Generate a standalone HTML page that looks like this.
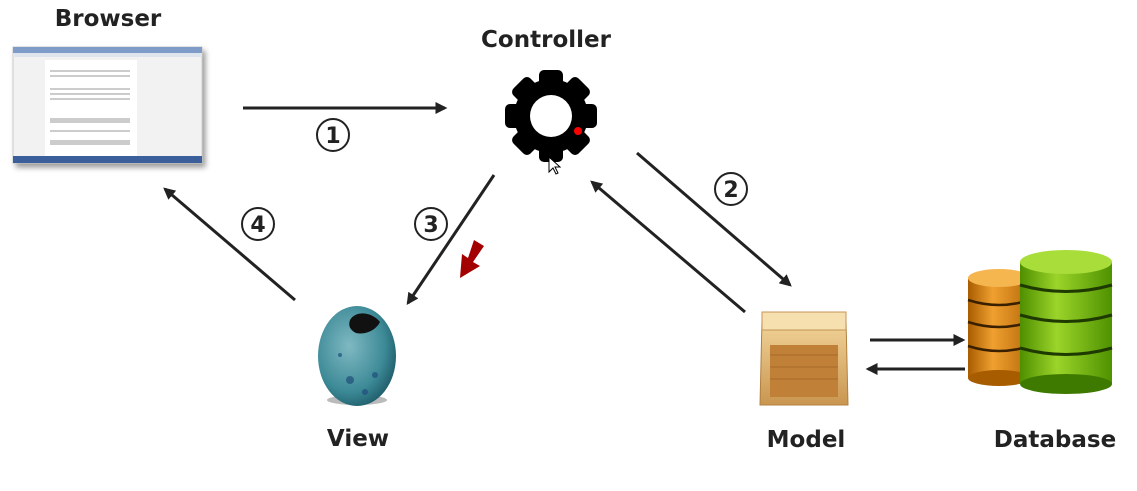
<!DOCTYPE html>
<html><head><meta charset="utf-8"><style>
html,body{margin:0;padding:0;background:#fff;}
svg{display:block;}
text{font-family:"DejaVu Sans","Liberation Sans",sans-serif;font-weight:bold;fill:#222;}
</style></head><body>
<svg width="1137" height="491" viewBox="0 0 1137 491" xmlns="http://www.w3.org/2000/svg">
<defs>
<marker id="ah" viewBox="0 0 10 10" refX="8" refY="5" markerWidth="4" markerHeight="4" orient="auto"><path d="M0,0 L10,5 L0,10 z" fill="#222"/></marker>
<filter id="sh" x="-10%" y="-10%" width="130%" height="130%"><feGaussianBlur in="SourceAlpha" stdDeviation="3"/><feOffset dx="3" dy="4"/><feComponentTransfer><feFuncA type="linear" slope="0.4"/></feComponentTransfer><feMerge><feMergeNode/><feMergeNode in="SourceGraphic"/></feMerge></filter>
<radialGradient id="egg" cx="40%" cy="40%" r="65%"><stop offset="0" stop-color="#7fb9c2"/><stop offset="0.7" stop-color="#3d8a97"/><stop offset="1" stop-color="#1f5d6b"/></radialGradient>
<linearGradient id="org" x1="0" x2="1"><stop offset="0" stop-color="#a85c00"/><stop offset="0.4" stop-color="#f0a030"/><stop offset="1" stop-color="#b86a0a"/></linearGradient>
<linearGradient id="grn" x1="0" x2="1"><stop offset="0" stop-color="#4f8f00"/><stop offset="0.4" stop-color="#9bd42a"/><stop offset="1" stop-color="#4f9200"/></linearGradient>
<linearGradient id="box" x1="0" y1="0" x2="0" y2="1"><stop offset="0" stop-color="#f2d49a"/><stop offset="1" stop-color="#c99650"/></linearGradient>
</defs>

<text x="108" y="26" font-size="23" text-anchor="middle">Browser</text>
<text x="546" y="47" font-size="23" text-anchor="middle">Controller</text>
<text x="358" y="446" font-size="23" text-anchor="middle">View</text>
<text x="806" y="447" font-size="23" text-anchor="middle">Model</text>
<text x="1055" y="447" font-size="23" text-anchor="middle">Database</text>

<g filter="url(#sh)">
<rect x="13" y="47" width="189" height="116" fill="#f2f2f2" stroke="#ccc"/>
<rect x="13" y="47" width="189" height="6" fill="#7f9cc8"/>
<rect x="13" y="53" width="189" height="4" fill="#dde4ee"/>
<rect x="45" y="60" width="92" height="97" fill="#fff"/>
<g fill="#ccc">
<rect x="50" y="70" width="80" height="2"/><rect x="50" y="75" width="80" height="2"/>
<rect x="50" y="88" width="80" height="2"/><rect x="50" y="93" width="80" height="2"/><rect x="50" y="98" width="80" height="2"/>
<rect x="50" y="118" width="80" height="5"/><rect x="50" y="130" width="80" height="2"/><rect x="50" y="140" width="80" height="5"/>
</g>
<rect x="13" y="156" width="189" height="7" fill="#3a5f9a"/>
</g>

<g transform="translate(551,116)">
<g fill="#000">
<circle r="37"/>
<rect x="-12" y="-46" width="24" height="20" rx="5"/>
<rect x="-12" y="-46" width="24" height="20" rx="5" transform="rotate(45)"/>
<rect x="-12" y="-46" width="24" height="20" rx="5" transform="rotate(90)"/>
<rect x="-12" y="-46" width="24" height="20" rx="5" transform="rotate(135)"/>
<rect x="-12" y="-46" width="24" height="20" rx="5" transform="rotate(180)"/>
<rect x="-12" y="-46" width="24" height="20" rx="5" transform="rotate(225)"/>
<rect x="-12" y="-46" width="24" height="20" rx="5" transform="rotate(270)"/>
<rect x="-12" y="-46" width="24" height="20" rx="5" transform="rotate(315)"/>
</g>
<circle r="21" fill="#fff"/>
<circle cx="27" cy="15" r="4" fill="#f00"/>
</g>
<path d="M549,157 L549,172 L553,168 L556,174 L558,173 L555,167 L560,167 z" fill="#fff" stroke="#000" stroke-width="1"/>

<g stroke="#222" stroke-width="3" fill="none" marker-end="url(#ah)">
<line x1="243" y1="108" x2="445" y2="108"/>
<line x1="637" y1="153" x2="790" y2="285"/>
<line x1="745" y1="312" x2="592" y2="182"/>
<line x1="494" y1="175" x2="408" y2="303"/>
<line x1="295" y1="300" x2="165" y2="189"/>
<line x1="870" y1="340" x2="963" y2="340"/>
<line x1="965" y1="369" x2="868" y2="369"/>
</g>

<g fill="none" stroke="#222" stroke-width="2">
<circle cx="333" cy="135" r="16"/><circle cx="731" cy="189" r="16"/>
<circle cx="431" cy="224" r="16"/><circle cx="258" cy="224" r="16"/>
</g>
<g font-size="22" text-anchor="middle" style="font-weight:normal">
<text x="333" y="143">1</text><text x="731" y="197">2</text>
<text x="431" y="232">3</text><text x="258" y="232">4</text>
</g>

<path d="M484,246 L474,240 L468,258 L462,254 L460,278 L480,266 L473,262 z" fill="#a30000"/>

<ellipse cx="357" cy="400" rx="30" ry="5" fill="#bbb"/>
<ellipse cx="357" cy="356" rx="39" ry="50" fill="url(#egg)"/>
<path d="M350,320 C356,310 372,312 380,322 C376,330 366,335 356,333 C350,330 348,326 350,320 z" fill="#111"/>
<g fill="#1f4f7a" opacity="0.7"><circle cx="350" cy="380" r="4"/><circle cx="375" cy="375" r="3"/><circle cx="340" cy="355" r="2"/><circle cx="365" cy="392" r="3"/></g>

<path d="M762,320 L846,320 L848,405 L760,405 z" fill="url(#box)" stroke="#b07f3e"/>
<rect x="762" y="312" width="84" height="18" fill="#f6e0b0" stroke="#c49555"/>
<rect x="770" y="345" width="68" height="52" fill="#c08038"/>
<g stroke="#a86a28" stroke-width="1"><line x1="770" y1="355" x2="838" y2="355"/><line x1="770" y1="367" x2="838" y2="367"/><line x1="770" y1="379" x2="838" y2="379"/></g>

<g>
<rect x="968" y="278" width="62" height="100" fill="url(#org)"/>
<ellipse cx="999" cy="378" rx="31" ry="8" fill="#a85c00"/>
<ellipse cx="999" cy="278" rx="31" ry="9" fill="#f5b650"/>
<g stroke="#3a2000" stroke-width="2.5" fill="none">
<path d="M968,300 Q999,310 1030,300"/><path d="M968,322 Q999,332 1030,322"/><path d="M968,346 Q999,356 1030,346"/>
</g>
<rect x="1020" y="262" width="92" height="122" fill="url(#grn)"/>
<ellipse cx="1066" cy="384" rx="46" ry="10" fill="#3f7a00"/>
<ellipse cx="1066" cy="262" rx="46" ry="12" fill="#a8dd3a"/>
<g stroke="#1e3a00" stroke-width="3" fill="none">
<path d="M1020,285 Q1066,298 1112,285"/><path d="M1020,315 Q1066,328 1112,315"/><path d="M1020,348 Q1066,361 1112,348"/>
</g>
</g>
</svg>
</body></html>
